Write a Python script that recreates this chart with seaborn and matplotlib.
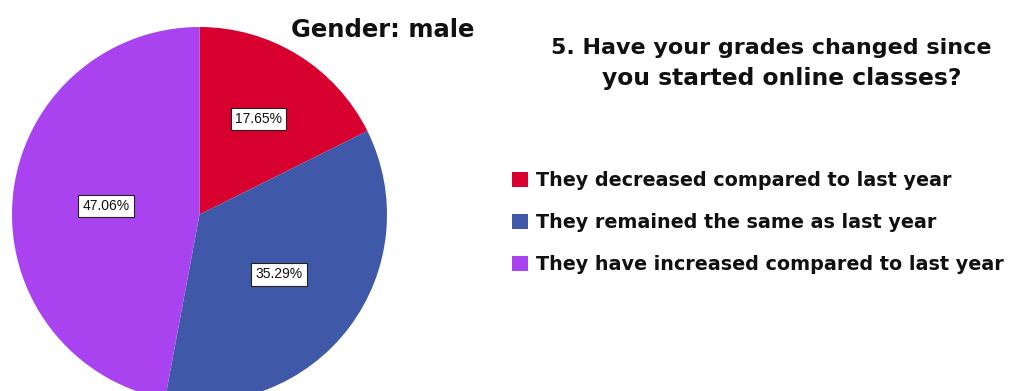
import matplotlib
matplotlib.use("Agg")
import matplotlib.pyplot as plt
import numpy as np
import seaborn as sns

# Survey answers for male respondents
categories = [
    "They decreased compared to last year",
    "They remained the same as last year",
    "They have increased compared to last year",
]
percentages = [17.65, 35.29, 47.06]
slice_colors = ["#D8002E", "#3F59A8", "#A843EF"]

title = "Gender: male"
question_lines = ["5. Have your grades changed since", "you started online classes?"]

sns.set_theme(style="white")
plt.rcParams["font.family"] = ["DejaVu Sans"]

W, H = 1018, 391
fig = plt.figure(figsize=(W / 100, H / 100), dpi=100)

# Square axes holding the pie (radius 1 fills the box)
cx, cy, r = 199.5, 214.5, 187.5
ax = fig.add_axes([(cx - r) / W, (H - cy - r) / H, 2 * r / W, 2 * r / H])

wedges, _, autotexts = ax.pie(
    percentages,
    colors=slice_colors,
    startangle=90,
    counterclock=False,
    radius=1.0,
    autopct=lambda p: f"{p:.2f}%",
    pctdistance=0.55,
    wedgeprops=dict(linewidth=0),
    textprops=dict(fontsize=10, color="#111111", family="Liberation Sans"),
)

# Per-slice radial placement of the percentage boxes
label_radius = [0.60, 0.53, 0.50]
for w, t, rad in zip(wedges, autotexts, label_radius):
    ang = np.deg2rad((w.theta1 + w.theta2) / 2)
    t.set_position((rad * np.cos(ang), rad * np.sin(ang)))
    t.set_bbox(dict(boxstyle="square,pad=0.3", facecolor="white",
                    edgecolor="#222222", linewidth=0.8))
ax.set_xlim(-1, 1)
ax.set_ylim(-1, 1)
ax.axis("off")

fig.text(383 / W, 1 - 30 / H, title, ha="center", va="center",
         fontsize=17.5, fontweight="bold", color="#111111")
fig.text(771 / W, 1 - 48 / H, question_lines[0], ha="center", va="center",
         fontsize=16, fontweight="bold", color="#111111")
fig.text(782 / W, 1 - 79 / H, question_lines[1], ha="center", va="center",
         fontsize=16.8, fontweight="bold", color="#111111")

fig.legend(
    wedges, categories,
    loc="upper left", bbox_to_anchor=(495 / W, 1 - 154 / H),
    frameon=False, handlelength=0.8, handleheight=0.8,
    handletextpad=0.45, labelspacing=1.2, labelcolor="#111111",
    prop=dict(weight="bold", size=13.8),
)

fig.savefig("out.png", dpi=100, facecolor="white")
